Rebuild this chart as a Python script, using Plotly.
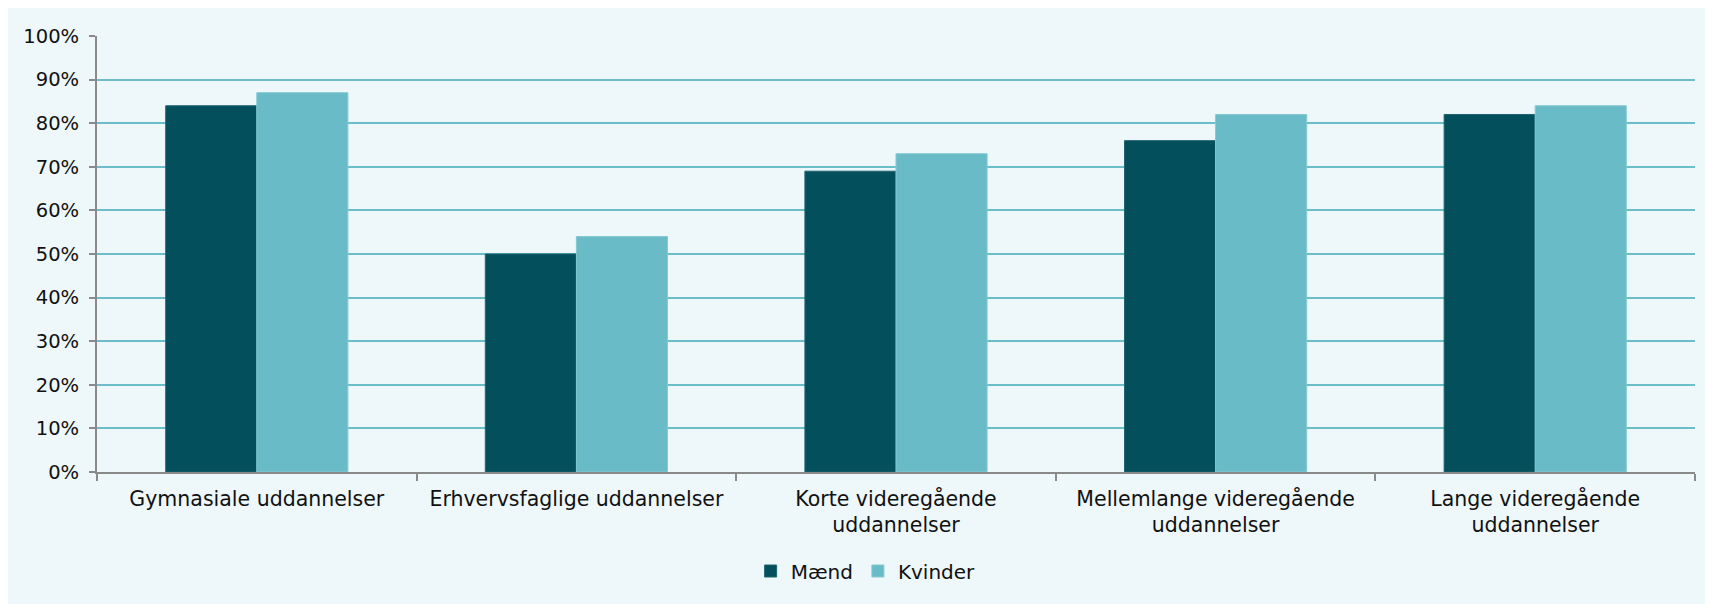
import plotly.graph_objects as go

categories = [
    "Gymnasiale uddannelser",
    "Erhvervsfaglige uddannelser",
    "Korte videregående<br>uddannelser",
    "Mellemlange videregående<br>uddannelser",
    "Lange videregående<br>uddannelser",
]
maend = [84, 50, 69, 76, 82]
kvinder = [87, 54, 73, 82, 84]
y_ticks = [0, 10, 20, 30, 40, 50, 60, 70, 80, 90, 100]
y_tick_labels = [f"{v}%" for v in y_ticks]

BG = "#EEF7F9"
FONT = "DejaVu Sans"

fig = go.Figure()
fig.add_trace(go.Bar(
    x=categories, y=maend, name="Mænd",
    marker=dict(color="#034F5B", line=dict(color="#1F6470", width=1)),
))
fig.add_trace(go.Bar(
    x=categories, y=kvinder, name="Kvinder",
    marker=dict(color="#69BBC7", line=dict(color="#86C9D3", width=1)),
))

# page has an 8px body margin; figure sized to fill the remaining window
W, H = 1705, 596
L, R, T, B = 89, 18, 28, 132
ph = H - T - B

def px2paper_y(py_page):
    return (H - B - (py_page - 8)) / ph

fig.update_layout(
    width=W, height=H,
    margin=dict(l=L, r=R, t=T, b=B, pad=0),
    paper_bgcolor=BG,
    plot_bgcolor=BG,
    barmode="group",
    bargap=0.43,
    bargroupgap=0,
    font=dict(family=FONT, size=20, color="#111111"),
    showlegend=True,
    legend=dict(
        orientation="h", x=0.481, xanchor="center",
        y=px2paper_y(571), yanchor="middle",
        font=dict(size=20), bgcolor="rgba(0,0,0,0)",
        traceorder="normal",
    ),
)
fig.update_yaxes(
    range=[0, 100], tickmode="array", tickvals=y_ticks, ticktext=y_tick_labels,
    showgrid=True, gridcolor="#6BBDC9", gridwidth=2,
    showline=True, linecolor="#8A8A8A", linewidth=2,
    ticks="outside", ticklen=6, tickcolor="#8A8A8A", tickwidth=2,
    zeroline=False, tickfont=dict(size=19.5), ticklabelstandoff=6,
)
fig.update_xaxes(
    showline=True, linecolor="#8A8A8A", linewidth=2,
    ticks="outside", tickson="boundaries", ticklen=7,
    tickcolor="#8A8A8A", tickwidth=2,
    tickfont=dict(size=20.5), ticklabelstandoff=7,
)

fig.write_html("out.html")
